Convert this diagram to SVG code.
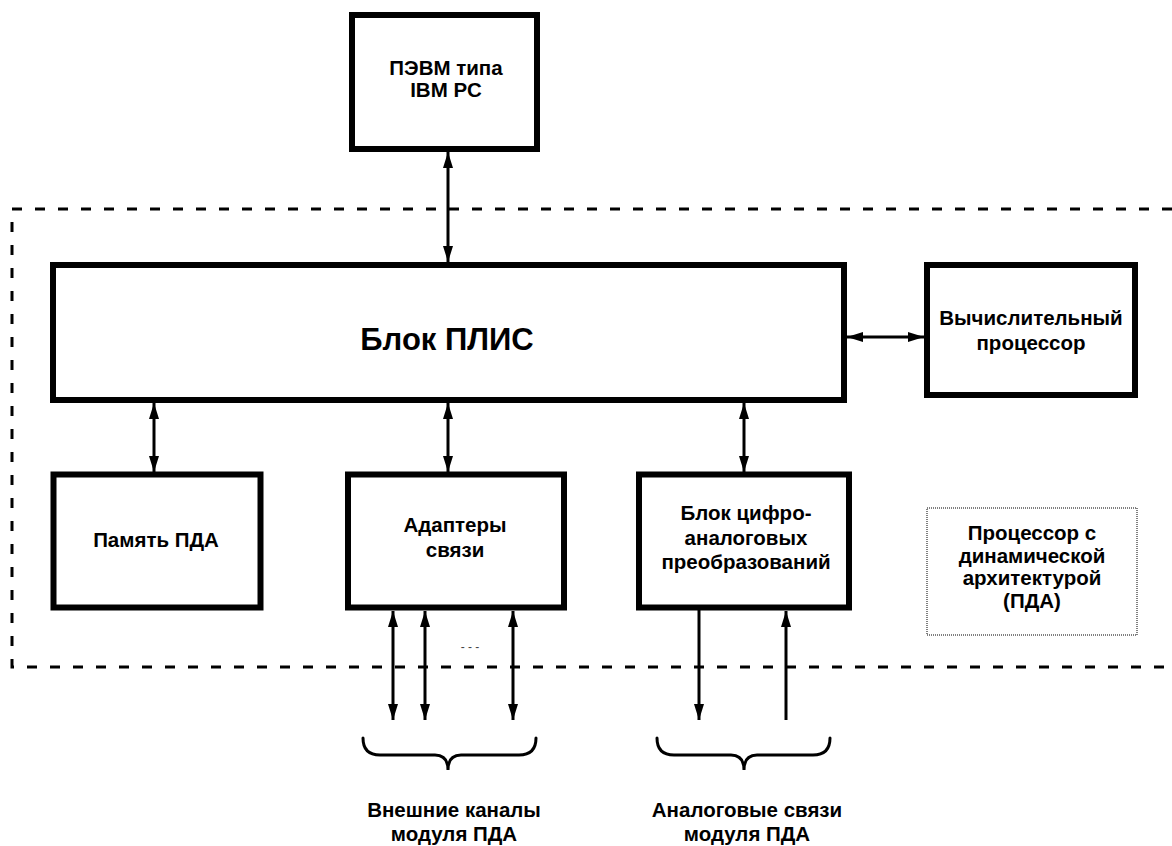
<svg xmlns="http://www.w3.org/2000/svg" width="1172" height="846" viewBox="0 0 1172 846">
<style>
.box{fill:#fff;stroke:#000;stroke-width:6}
.t{font-family:"Liberation Sans",Arial,sans-serif;font-weight:bold;font-size:20.5px;fill:#000;text-anchor:middle}
.c{stroke:#000;stroke-width:3;fill:none}
.br{stroke:#000;stroke-width:3;fill:none;stroke-linecap:round}
</style>
<defs>
<marker id="ah" viewBox="0 0 16 10" refX="16" refY="5" markerWidth="16" markerHeight="10" markerUnits="userSpaceOnUse" orient="auto-start-reverse">
<path d="M0,0 L16,5 L0,10 z" fill="#000"/>
</marker>
</defs>
<rect width="1172" height="846" fill="#fff"/>
<g id="boundary">
<path d="M1172,209 H12 V667 H1172" fill="none" stroke="#000" stroke-width="3" stroke-dasharray="10,13"/>
</g>
<g id="pc">
<rect class="box" x="352" y="15" width="185" height="134"/>
<text class="t" x="446" y="75">ПЭВМ типа</text>
<text class="t" x="446" y="97">IBM PC</text>
</g>
<g id="plis">
<rect class="box" x="53" y="265" width="791" height="135"/>
<text class="t" x="447" y="350" style="font-size:31px">Блок ПЛИС</text>
</g>
<g id="cpu">
<rect class="box" x="927" y="265" width="208" height="130"/>
<text class="t" x="1031" y="325">Вычислительный</text>
<text class="t" x="1031" y="350">процессор</text>
</g>
<g id="mem">
<rect class="box" x="53.5" y="474.5" width="207" height="133"/>
<text class="t" x="156" y="547">Память ПДА</text>
</g>
<g id="adapters">
<rect class="box" x="348" y="474.5" width="216" height="133"/>
<text class="t" x="455" y="532">Адаптеры</text>
<text class="t" x="455" y="557">связи</text>
</g>
<g id="dac">
<rect class="box" x="639" y="474.5" width="210" height="133"/>
<text class="t" x="746" y="520">Блок цифро-</text>
<text class="t" x="746" y="545">аналоговых</text>
<text class="t" x="746" y="569">преобразований</text>
</g>
<g id="pda">
<rect x="927" y="508" width="210" height="127" fill="none" stroke="#000" stroke-width="1" stroke-dasharray="1,1"/>
<text class="t" x="1032" y="540">Процессор с</text>
<text class="t" x="1032" y="563">динамической</text>
<text class="t" x="1032" y="585">архитектурой</text>
<text class="t" x="1032" y="608">(ПДА)</text>
</g>
<g id="connectors">
<line class="c" x1="448" y1="152" x2="448" y2="262" marker-start="url(#ah)" marker-end="url(#ah)"/>
<line class="c" x1="847" y1="337" x2="924" y2="337" marker-start="url(#ah)" marker-end="url(#ah)"/>
<line class="c" x1="154" y1="403" x2="154" y2="472" marker-start="url(#ah)" marker-end="url(#ah)"/>
<line class="c" x1="448" y1="403" x2="448" y2="472" marker-start="url(#ah)" marker-end="url(#ah)"/>
<line class="c" x1="744" y1="403" x2="744" y2="472" marker-start="url(#ah)" marker-end="url(#ah)"/>
<line class="c" x1="393" y1="611" x2="393" y2="720" marker-start="url(#ah)" marker-end="url(#ah)"/>
<line class="c" x1="425" y1="611" x2="425" y2="720" marker-start="url(#ah)" marker-end="url(#ah)"/>
<line class="c" x1="513" y1="611" x2="513" y2="720" marker-start="url(#ah)" marker-end="url(#ah)"/>
<line class="c" x1="699" y1="610" x2="699" y2="720" marker-end="url(#ah)"/>
<line class="c" x1="786" y1="720" x2="786" y2="611" marker-end="url(#ah)"/>
</g>
<text x="470" y="651" style="font-family:'Liberation Sans',Arial,sans-serif;font-size:12px;fill:#444;text-anchor:middle">- - -</text>
<g id="braces">
<path class="br" d="M363,738 Q363,755 380,755 H435 Q448,755 448,770 Q448,755 461,755 H519 Q536,755 536,738"/>
<path class="br" d="M657,738 Q657,755 674,755 H731 Q744,755 744,770 Q744,755 757,755 H813 Q830,755 830,738"/>
</g>
<g id="labels">
<text class="t" x="454" y="817">Внешние каналы</text>
<text class="t" x="454" y="841">модуля ПДА</text>
<text class="t" x="747" y="817">Аналоговые связи</text>
<text class="t" x="747" y="841">модуля ПДА</text>
</g>
</svg>
